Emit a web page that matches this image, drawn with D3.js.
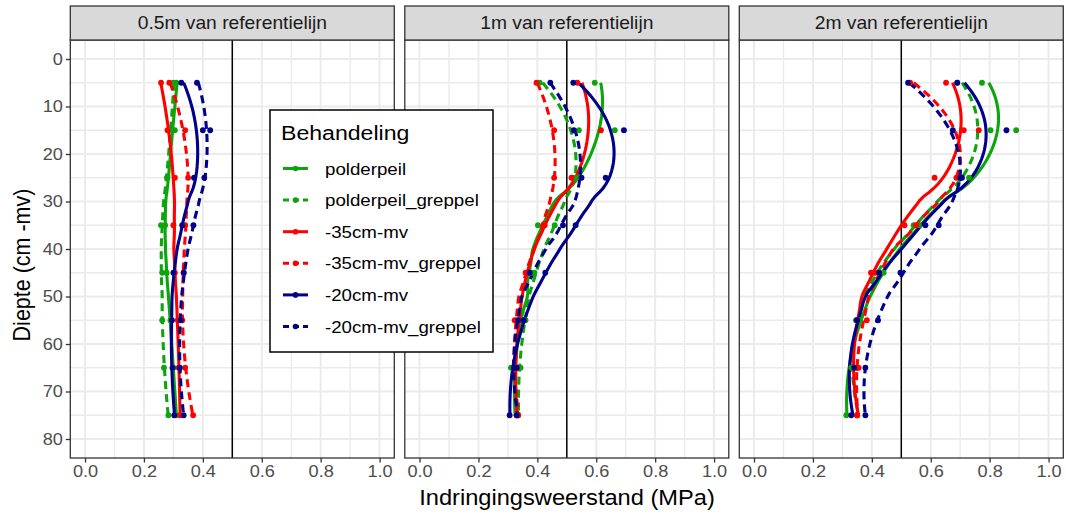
<!DOCTYPE html>
<html><head><meta charset="utf-8">
<script src="https://cdn.jsdelivr.net/npm/d3@7"></script>
<style>
body{margin:0;background:#fff}
svg{display:block}
text{font-family:"Liberation Sans",Arial,sans-serif}
</style>
</head><body>
<svg id="chart" width="1066" height="515"></svg>
<script>
// ---------------- DATA ----------------
const panels = ["0.5m van referentielijn", "1m van referentielijn", "2m van referentielijn"];
const seriesNames = ["polderpeil", "polderpeil_greppel", "-35cm-mv", "-35cm-mv_greppel", "-20cm-mv", "-20cm-mv_greppel"];
const depths = [5, 15, 25, 35, 45, 55, 65, 75];
const xTicks = [0, 0.2, 0.4, 0.6, 0.8, 1.0];
const yTicks = [0, 10, 20, 30, 40, 50, 60, 70, 80];
const referenceValue = 0.5;

// penetration resistance (MPa) per depth, one row per panel
const polderpeil = [
  [0.310, 0.305, 0.280, 0.272, 0.277, 0.290, 0.300, 0.310],
  [0.595, 0.663, 0.530, 0.402, 0.380, 0.350, 0.310, 0.330],
  [0.774, 0.890, 0.730, 0.560, 0.440, 0.360, 0.330, 0.313]
];
const polderpeil_greppel = [
  [0.300, 0.295, 0.278, 0.258, 0.262, 0.262, 0.268, 0.283],
  [0.408, 0.541, 0.520, 0.459, 0.390, 0.360, 0.343, 0.335],
  [0.690, 0.803, 0.700, 0.542, 0.420, 0.346, 0.350, 0.350]
];
const mv35 = [
  [0.258, 0.280, 0.305, 0.300, 0.305, 0.315, 0.318, 0.323],
  [0.536, 0.616, 0.516, 0.425, 0.363, 0.340, 0.330, 0.330],
  [0.652, 0.763, 0.613, 0.511, 0.397, 0.350, 0.350, 0.350]
];
const mv35_greppel = [
  [0.286, 0.340, 0.350, 0.340, 0.335, 0.330, 0.340, 0.367],
  [0.397, 0.457, 0.457, 0.420, 0.360, 0.323, 0.330, 0.335],
  [0.530, 0.712, 0.687, 0.550, 0.410, 0.383, 0.355, 0.350]
];
const mv20 = [
  [0.327, 0.400, 0.370, 0.330, 0.300, 0.295, 0.297, 0.303],
  [0.522, 0.694, 0.632, 0.530, 0.427, 0.354, 0.320, 0.306],
  [0.690, 0.857, 0.706, 0.582, 0.425, 0.350, 0.340, 0.330]
];
const mv20_greppel = [
  [0.380, 0.425, 0.405, 0.368, 0.335, 0.325, 0.322, 0.335],
  [0.444, 0.524, 0.550, 0.487, 0.374, 0.334, 0.330, 0.330],
  [0.523, 0.675, 0.700, 0.627, 0.497, 0.421, 0.378, 0.378]
];
const seriesValues = [polderpeil, polderpeil_greppel, mv35, mv35_greppel, mv20, mv20_greppel];
const seriesColors = ["#0CA50C", "#0CA50C", "#FF0000", "#FF0000", "#00008B", "#00008B"];
const seriesDashed = [false, true, false, true, false, true];

// ---------------- LAYOUT ----------------
const SX = 1.1; // horizontal text stretch of the reference
const panelLeft0 = 70.3, panelStep = 334.5, panelW = 324;
const panelTop = 40, panelBottom = 458, stripTop = 6;
const svg = d3.select("#chart");

function hText(g, x, y, str, size, color, anchor) {
  return g.append("text")
    .attr("transform", `translate(${x},${y}) scale(${SX},1)`)
    .attr("text-anchor", anchor || "middle")
    .attr("font-size", size).attr("fill", color).text(str);
}

// local quadratic loess (span 0.75, tricube), as geom_smooth
function loess(xs, ys, x0, span = 0.75) {
  const n = xs.length, q = Math.floor(n * span);
  const d = xs.map(x => Math.abs(x - x0));
  const h = d.slice().sort((a, b) => a - b)[q - 1] * 1.0000001;
  const A = [[0,0,0],[0,0,0],[0,0,0]], B = [0,0,0];
  for (let i = 0; i < n; i++) {
    const u = d[i] / h; if (u >= 1) continue;
    const w = Math.pow(1 - u*u*u, 3);
    const t = (xs[i] - x0) / h, basis = [1, t, t*t];
    for (let r = 0; r < 3; r++) { B[r] += w * basis[r] * ys[i]; for (let c = 0; c < 3; c++) A[r][c] += w * basis[r] * basis[c]; }
  }
  const M = A.map((row, i) => row.concat([B[i]]));
  for (let i = 0; i < 3; i++) {
    let p = i; for (let k = i+1; k < 3; k++) if (Math.abs(M[k][i]) > Math.abs(M[p][i])) p = k;
    [M[i], M[p]] = [M[p], M[i]];
    for (let k = i+1; k < 3; k++) { const f = M[k][i] / M[i][i]; for (let c = i; c < 4; c++) M[k][c] -= f * M[i][c]; }
  }
  const sol = [0,0,0];
  for (let i = 2; i >= 0; i--) { let s = M[i][3]; for (let c = i+1; c < 3; c++) s -= M[i][c]*sol[c]; sol[i] = s / M[i][i]; }
  return sol[0];
}

const y = d3.scaleLinear().domain([-4, 84]).range([panelTop, panelBottom]);
const evalDepths = d3.range(80).map(i => depths[0] + i * (depths[depths.length-1] - depths[0]) / 79);

panels.forEach((name, pi) => {
  const left = panelLeft0 + pi * panelStep;
  const x = d3.scaleLinear().domain([-0.05, 1.05]).range([left, left + panelW]);
  const g = svg.append("g");
  g.append("rect").attr("x", left).attr("y", panelTop).attr("width", panelW).attr("height", panelBottom - panelTop).attr("fill", "#fff");
  const minorX = d3.range(0.1, 1.0, 0.2), minorY = d3.range(5, 80, 10);
  minorX.forEach(v => g.append("line").attr("x1", x(v)).attr("x2", x(v)).attr("y1", panelTop).attr("y2", panelBottom).attr("stroke", "#EBEBEB").attr("stroke-width", 1.3));
  minorY.forEach(v => g.append("line").attr("x1", left).attr("x2", left + panelW).attr("y1", y(v)).attr("y2", y(v)).attr("stroke", "#EBEBEB").attr("stroke-width", 1.3));
  xTicks.forEach(v => g.append("line").attr("x1", x(v)).attr("x2", x(v)).attr("y1", panelTop).attr("y2", panelBottom).attr("stroke", "#EBEBEB").attr("stroke-width", 2));
  yTicks.forEach(v => g.append("line").attr("x1", left).attr("x2", left + panelW).attr("y1", y(v)).attr("y2", y(v)).attr("stroke", "#EBEBEB").attr("stroke-width", 2));
  g.append("line").attr("x1", x(referenceValue)).attr("x2", x(referenceValue)).attr("y1", panelTop).attr("y2", panelBottom).attr("stroke", "#000").attr("stroke-width", 1.5);
  seriesValues.forEach((vals, si) => {
    const ys = vals[pi];
    const pts = evalDepths.map(dp => [loess(depths, ys, dp), dp]);
    g.append("path").datum(pts)
      .attr("d", d3.line().x(d => x(d[0])).y(d => y(d[1])))
      .attr("fill", "none").attr("stroke", seriesColors[si]).attr("stroke-width", 3.1)
      .attr("stroke-dasharray", seriesDashed[si] ? "8,5" : null);
  });
  seriesValues.forEach((vals, si) => {
    g.selectAll(null).data(depths).enter().append("circle")
      .attr("cx", (dp, i) => x(vals[pi][i])).attr("cy", dp => y(dp)).attr("r", 2.9)
      .attr("fill", seriesColors[si]);
  });
  g.append("rect").attr("x", left).attr("y", panelTop).attr("width", panelW).attr("height", panelBottom - panelTop).attr("fill", "none").attr("stroke", "#333").attr("stroke-width", 1.3);
  g.append("rect").attr("x", left).attr("y", stripTop).attr("width", panelW).attr("height", panelTop - stripTop).attr("fill", "#D9D9D9").attr("stroke", "#333").attr("stroke-width", 1.3);
  hText(g, left + panelW/2, 29, name, 17.5, "#1A1A1A");
  const xa = g.append("g").attr("transform", `translate(0,${panelBottom})`)
    .call(d3.axisBottom(x).tickValues(xTicks).tickFormat(d3.format(".1f")).tickSize(4.5).tickPadding(3));
  xa.select(".domain").remove();
  xa.selectAll(".tick line").attr("stroke", "#333").attr("stroke-width", 1.3);
  xa.selectAll(".tick text").attr("font-size", 16.5).attr("fill", "#4D4D4D").attr("font-family", "Liberation Sans, Arial, sans-serif")
    .attr("transform", `scale(${SX},1)`);
  if (pi === 0) {
    const ya = g.append("g").attr("transform", `translate(${left},0)`)
      .call(d3.axisLeft(y).tickValues(yTicks).tickSize(4.5).tickPadding(3));
    ya.select(".domain").remove();
    ya.selectAll(".tick line").attr("stroke", "#333").attr("stroke-width", 1.3);
    ya.selectAll(".tick text").attr("font-size", 16.5).attr("fill", "#4D4D4D").attr("font-family", "Liberation Sans, Arial, sans-serif")
      .attr("transform", `scale(${SX},1)`).attr("x", -7.5 / SX);
  }
});

hText(svg, 567, 505, "Indringingsweerstand (MPa)", 21.5, "#000");
svg.append("text").attr("transform", `translate(30,265) rotate(-90) scale(1,${SX})`)
  .attr("text-anchor", "middle").attr("font-size", 21.5).attr("fill", "#000").text("Diepte (cm -mv)");

const lg = svg.append("g");
lg.append("rect").attr("x", 270).attr("y", 110).attr("width", 223).attr("height", 242).attr("fill", "#fff").attr("stroke", "#000").attr("stroke-width", 1.5);
hText(lg, 281, 140, "Behandeling", 21, "#000", "start");
seriesNames.forEach((s, i) => {
  const cy = 168.5 + i * 31.6;
  lg.append("line").attr("x1", 283).attr("x2", 308).attr("y1", cy).attr("y2", cy)
    .attr("stroke", seriesColors[i]).attr("stroke-width", 3).attr("stroke-dasharray", seriesDashed[i] ? "6,4" : null);
  lg.append("circle").attr("cx", 295.5).attr("cy", cy).attr("r", 2.8).attr("fill", seriesColors[i]);
  hText(lg, 325, cy + 6, s, 17, "#000", "start");
});
</script>
</body></html>
